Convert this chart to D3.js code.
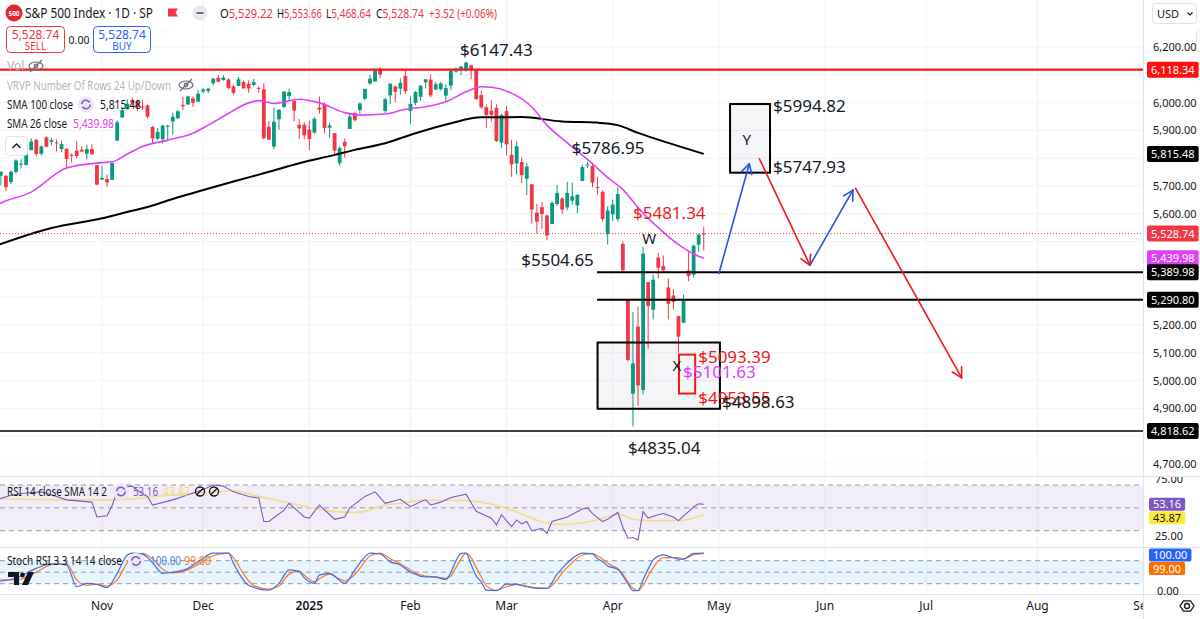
<!DOCTYPE html>
<html>
<head>
<meta charset="utf-8">
<script src="https://cdn.jsdelivr.net/npm/d3@7"></script>
<style>
html, body { margin: 0; padding: 0; background: #fff; }
svg { display: block; font-family: "Noto Sans", Roboto, sans-serif; }
</style>
</head>
<body>
<svg id="chart" width="1200" height="619"></svg>
<script>
// ---------------------------------------------------------------
// data. bar index 0 = 2024-11-01
// ---------------------------------------------------------------
const firstBar = -21; // 2024-10-03

const opens = [
  // Oct
  5698,5737,5737,5714,5751,5778,5775,5829,5866,5816,5875,5859,5857,5833,5834,5812,5827,5830,5816,5833,5775,
  // Nov
  5723,5725,5722,5863,5947,5976,6009,6004,5986,5990,5912,5870,5868,5917,5932,5944,5992,5993,6015,6003,
  // Dec
  6040,6042,6069,6089,6081,6083,6058,6060,6074,6068,6063,6053,6048,5913,5842,5940,5984,6024,6006,5920,5920,
  // Jan
  5903,5892,5982,5993,5910,5890,5782,5859,5905,5963,5973,6014,6069,6076,6121,5970,6026,6058,6050,6096,
  // Feb
  5970,5999,6021,6073,6083,6047,6049,6025,6061,6115,6121,6118,6134,6115,6027,5983,5971,5981,5856,
  // Mar
  5969,5812,5781,5786,5726,5706,5604,5624,5594,5563,5635,5655,5623,5647,5630,5718,5775,5772,5696,5679,5527,
  // Apr
  5598,5581,5492,5292,4953,5194,4966,5354,5255,5442,5412,5335,5306,5232,5208,5396,5381,5489,5529.22
];
const highs = [
  5718,5753,5739,5757,5796,5796,5823,5871,5870,5846,5879,5872,5867,5863,5835,5817,5862,5843,5848,5850,5775,
  5772,5741,5783,5936,5983,6012,6018,6010,6009,5993,5916,5909,5921,5920,5964,5973,6021,6025,6021,6045,
  6053,6053,6089,6099,6099,6088,6065,6092,6080,6079,6085,6058,6070,5935,5982,5978,6041,6050,6007,5941,5929,
  5936,5949,6022,6000,5928,5890,5843,5871,5961,5965,6001,6051,6100,6119,6128,6018,6070,6062,6087,6121,
  6022,6042,6062,6084,6101,6074,6076,6064,6117,6127,6130,6147.43,6134,6119,6044,5993,6009,5994,5960,
  5987,5866,5861,5803,5783,5706,5636,5642,5597,5646,5703,5660,5715,5712,5670,5776,5786.95,5784,5732,5685,5627,
  5651,5695,5500,5292,5246,5267,5481.34,5354,5381,5459,5450,5367,5329,5233,5309,5469,5489,5528,5553.66
];
const lows = [
  5675,5702,5683,5707,5745,5763,5775,5829,5807,5809,5840,5846,5824,5821,5762,5784,5800,5823,5795,5813,5703,
  5723,5696,5722,5863,5945,5976,5986,5969,5974,5942,5854,5865,5853,5861,5884,5941,5973,5992,5985,6003,
  6033,6033,6062,6075,6079,6048,6028,6060,6051,6036,6059,6035,5868,5866,5832,5902,5982,6004,5933,5869,5868,
  5829,5888,5960,5890,5874,5809,5773,5802,5905,5930,5960,6007,6063,6074,6088,5962,5995,6001,6028,6031,
  5923,5990,6007,6051,6019,6045,6043,6003,6045,6107,6099,6111,6084,6009,5977,5908,5932,5858,5837,
  5810,5733,5742,5711,5667,5565,5529,5546,5504.65,5563,5629,5598,5613,5633,5602,5718,5764,5695,5670,5572,5489,
  5574,5572,5390,5069,4835.04,4910,4950,5115,5220,5368,5387,5220,5255,5101.63,5208,5357,5371,5463,5468.64
];
const closes = [
  5700,5751,5696,5751,5792,5780,5815,5860,5815,5842,5841,5865,5854,5851,5797,5810,5808,5824,5833,5814,5705,
  5729,5713,5783,5929,5973,5996,6001,5984,5985,5949,5871,5894,5917,5917,5949,5969,5987,6022,5999,6032,
  6047,6050,6086,6075,6090,6053,6035,6084,6051,6051,6074,6051,5872,5867,5931,5974,6040,6038,5971,5907,5882,
  5869,5942,5975,5909,5918,5827,5836,5843,5950,5937,5997,6049,6086,6119,6101,6012,6068,6039,6071,6041,
  5995,6038,6061,6084,6026,6066,6069,6052,6115,6115,6130,6144,6118,6013,5983,5955,5956,5862,5955,
  5850,5778,5843,5739,5770,5615,5572,5599,5522,5639,5675,5615,5675,5663,5668,5768,5777,5712,5693,5581,5612,
  5633,5671,5397,5074,5062,4983,5457,5268,5363,5406,5397,5276,5283,5158,5288,5376,5485,5525,5528.74
];

// moving averages, read at [bar, value]
const sma26 = [[-21,5630],[-20,5639],[-14,5678],[-7,5765],[0,5784],[2,5787],[5,5815],[8,5842],[13,5865],
  [18,5890],[21,5919],[25,5961],[29,5999],[31,6007],[34,5997],[39,6012],[43,5999],[48,5964],[51,5955],
  [56,5959],[60,5976],[64,5985],[68,6003],[72,6039],[75,6057],[77,6055],[81,6034],[85,5984],[88,5919],
  [92,5855],[97,5780],[100,5730],[103,5688],[106,5622],[110,5550],[114,5489],[118,5447],[119,5439.98]];
const sma100 = [[-21,5485],[-10,5549],[0,5584],[4,5602],[10,5630],[13,5648],[19,5680],[26,5716],[33,5751],
  [39,5782],[46,5812],[50,5830],[56,5854],[62,5890],[69,5926],[75,5947],[83,5948],[91,5932],[98,5928],
  [102,5919],[106,5891],[112,5855],[119,5815.48]];

// RSI 14 and its SMA
const rsi = [[-21,57],[-18,61],[-15,63],[-12,64],[-9,60],[-7,57],[-2,55],[-1,42],[1,43],[2,52],[3,64],
  [5,68.5],[6,69],[8,62],[9,60],[10,52.5],[14,57],[16,60],[18,63],[20,66],[22,70],[24,69],[26,64],[29,60],
  [31,58.6],[32,38],[33,38],[36,48],[37,54],[40,42],[41,41],[43,52.5],[46,40],[47,41],[48,42],[49,50],
  [52,60],[54,64],[56,54],[59,57.5],[61,51],[63,55.4],[64,57],[65,52.5],[67,55],[69,59],[72,62],[74,47],
  [77,41],[78,35],[79,44],[81,33.5],[82,39.4],[83,36],[84,38],[85,30],[86,31],[87,32],[88,27.7],[89,38],
  [92,42],[95,49],[96,50],[97,45],[99,38],[100,40],[102,46],[103,33],[104,23.4],[105,24],[106,22],
  [107,46.7],[108,41],[110,44],[111,45],[113,42],[114,38.8],[115,43],[116,46.7],[117,51],[118,53.5],[119,53.16]];
const rsiSma = [[-21,58],[-7,57],[2,57],[13,61],[22,64],[26,65],[30,61],[36,55.4],[42,49.6],[46,46.7],
  [50,46],[53,48],[56,52.5],[59,54],[64,56.9],[72,56.3],[76,54],[81,48.1],[87,37.9],[91,35.6],[95,37],
  [98,39.4],[102,44.4],[105,40],[108,38.8],[114,38.8],[116,40],[119,43.87]];

// Stoch RSI %K and %D
const stochK = [[-21,25],[-17,35],[-13,60],[-10,72],[-7,69],[-5,12],[-3,21],[-1,18],[1,10],[3,47],[5,95],
  [6,100],[8,97],[10,75],[12,47],[14,50],[17,60],[19,77],[22,100],[25,100],[26,73],[29,16],[33,3],[35,21],
  [37,56],[39,52],[40,35],[41,25],[42,21],[43,43],[45,47],[48,21],[50,56],[52,90],[53,100],[55,98],[57,77],
  [59,69],[61,50],[62,45],[63,39],[64,38],[66,37],[68,31],[69,50],[70,80],[71,99],[72,100],[73,70],[74,40],
  [75,25],[76,3],[78,2],[80,19],[82,18],[84,12],[86,8],[88,8],[90,45],[91,60],[93,86],[95,100],[97,98],
  [98,85],[99,78],[100,66],[101,62],[102,57],[104,20],[105,2],[106,2],[107,30],[108,58],[109,82],[111,95],
  [114,84],[115,84],[117,99],[119,100]];
const stochD = [[-21,30],[-17,30],[-13,50],[-10,70],[-7,72],[-5,30],[-3,16],[-1,19],[1,14],[3,30],[5,75],
  [6,90],[8,99],[10,85],[12,58],[14,48],[17,56],[19,70],[22,93],[25,100],[26,88],[28,45],[30,15],[33,6],
  [35,14],[37,45],[39,53],[40,42],[41,31],[42,25],[43,33],[45,45],[47,32],[48,27],[50,44],[52,78],[53,93],
  [55,100],[57,85],[59,72],[61,56],[62,48],[64,40],[66,38],[68,34],[69,40],[70,62],[71,85],[72,99],[73,88],
  [74,62],[75,38],[76,15],[78,3],[80,12],[82,18],[84,14],[86,9],[88,8],[89,15],[90,30],[91,48],[93,75],
  [95,95],[97,99],[98,92],[99,84],[100,74],[101,66],[102,60],[103,45],[104,25],[105,8],[106,2],[107,15],
  [108,40],[109,62],[111,88],[114,88],[115,85],[117,95],[119,99]];

// axes
const monthLabels = ["Nov","Dec","2025","Feb","Mar","Apr","May","Jun","Jul","Aug","Sep"];
const monthBars   = [0, 20, 41, 61, 80, 101, 122, 143, 163, 185, 206];
const priceTicks  = [4700,4800,4900,5000,5100,5200,5300,5400,5500,5600,5700,5800,5900,6000,6100,6200];

// drawn levels and notes
const redLevel = 6118.34;
const lastPrice = 5528.74;
const supportLevels = [5389.98, 5290.80];
const floorLevel = 4818.62;
const boxY = {bars: [124.2, 132.1], prices: [5747.93, 5994.82]};
const boxX = {bars: [98, 122.2], prices: [4898.63, 5137]};
const boxRed = {bars: [114.1, 117.3], prices: [4953.55, 5093.39]};
const arrows = [
  {from: [122, 5385], to: [128, 5780], color: "#2952e3"},
  {from: [130, 5798], to: [140, 5415], color: "#f21818"},
  {from: [140, 5415], to: [148.5, 5685], color: "#2952e3"},
  {from: [149, 5692], to: [170, 5010], color: "#f21818"}
];
const notes = [
  {bar: 70.8, price: 6167.6, text: "$6147.43", color: "#131722"},
  {bar: 92.9, price: 5815.1, text: "$5786.95", color: "#131722"},
  {bar: 105,  price: 5581.3, text: "$5481.34", color: "#f21818"},
  {bar: 82.9, price: 5412.2, text: "$5504.65", color: "#131722"},
  {bar: 117.9, price: 5064.4, text: "$5093.39", color: "#f21818"},
  {bar: 114.9, price: 5010.4, text: "$5101.63", color: "#e040fb"},
  {bar: 117.9, price: 4915.8, text: "$4953.55", color: "#f21818"},
  {bar: 122.6, price: 4902.5, text: "$4898.63", color: "#131722"},
  {bar: 104,  price: 4737.1, text: "$4835.04", color: "#131722"},
  {bar: 132.7, price: 5966.2, text: "$5994.82", color: "#131722"},
  {bar: 132.7, price: 5747.8, text: "$5747.93", color: "#131722"}
];
const letters = [
  {bar: 108.2, price: 5491.4, text: "W"},
  {bar: 113.7, price: 5034.5, text: "X"},
  {bar: 127.5, price: 5847.5, text: "Y"}
];

// ---------------------------------------------------------------
const svg = d3.select("#chart");
const plotRight = 1143;
const up = "#089981", down = "#f23645";
const fmt = d3.format(",.2f");

const x = d3.scaleLinear().domain([0, 185]).range([102, 1037.5]);
const y = d3.scaleLinear().domain([4700, 6200]).range([464, 47]);
const yRsi = d3.scaleLinear().domain([30, 70]).range([530.7, 485]);
const ySto = d3.scaleLinear().domain([20, 80]).range([583.7, 560.7]);

const defs = svg.append("defs");
function clip(id, x0, y0, w, h) {
  defs.append("clipPath").attr("id", id)
    .append("rect").attr("x", x0).attr("y", y0).attr("width", w).attr("height", h);
}
clip("pricePane", 0, 0, plotRight, 476);
clip("rsiPane", 0, 477, plotRight, 70);
clip("stochPane", 0, 548, plotRight, 46);
clip("timeAxis", 0, 594, plotRight, 25);
clip("rsiAxis", plotRight, 477, 57, 70);

// grid
const grid = svg.append("g");
grid.selectAll("line.v").data(monthBars).join("line")
  .attr("x1", d => x(d)).attr("x2", d => x(d))
  .attr("y1", 0).attr("y2", 594)
  .attr("stroke", "#f0f3fa");
grid.selectAll("line.h").data(priceTicks).join("line")
  .attr("x1", 0).attr("x2", plotRight)
  .attr("y1", d => y(d)).attr("y2", d => y(d))
  .attr("stroke", "#f0f3fa");

// panes frame
const frame = svg.append("g").attr("stroke", "#e0e3eb");
frame.append("line").attr("x1", 0).attr("x2", 1200).attr("y1", 476.5).attr("y2", 476.5);
frame.append("line").attr("x1", 0).attr("x2", 1200).attr("y1", 547.5).attr("y2", 547.5);
frame.append("line").attr("x1", 0).attr("x2", 1200).attr("y1", 594.5).attr("y2", 594.5);
frame.append("line").attr("x1", plotRight + 0.5).attr("x2", plotRight + 0.5).attr("y1", 0).attr("y2", 619);

// ---------------- price pane
const price = svg.append("g").attr("clip-path", "url(#pricePane)");

const bars = closes.map((c, k) => ({i: k + firstBar, o: opens[k], h: highs[k], l: lows[k], c: c}));
const candles = price.append("g");
candles.selectAll("line").data(bars).join("line")
  .attr("x1", d => x(d.i)).attr("x2", d => x(d.i))
  .attr("y1", d => y(d.h)).attr("y2", d => y(d.l))
  .attr("stroke", d => d.c >= d.o ? up : down)
  .attr("stroke-width", 1);
candles.selectAll("rect").data(bars).join("rect")
  .attr("x", d => x(d.i) - 1.9).attr("width", 3.8)
  .attr("y", d => y(Math.max(d.o, d.c)))
  .attr("height", d => Math.max(1, Math.abs(y(d.o) - y(d.c))))
  .attr("fill", d => d.c >= d.o ? up : down);

const maLine = d3.line().curve(d3.curveMonotoneX).x(d => x(d[0])).y(d => y(d[1]));
price.append("path").datum(sma100).attr("d", maLine)
  .attr("fill", "none").attr("stroke", "#000").attr("stroke-width", 2);
price.append("path").datum(sma26).attr("d", maLine)
  .attr("fill", "none").attr("stroke", "#e040fb").attr("stroke-width", 1.6);

// last price dotted line
price.append("line")
  .attr("x1", 0).attr("x2", plotRight)
  .attr("y1", y(lastPrice)).attr("y2", y(lastPrice))
  .attr("stroke", "#f23645").attr("stroke-dasharray", "1,2");

// levels
price.append("line")
  .attr("x1", 0).attr("x2", plotRight)
  .attr("y1", y(redLevel)).attr("y2", y(redLevel))
  .attr("stroke", "#f5141e").attr("stroke-width", 2.2);
price.selectAll("line.sup").data(supportLevels).join("line")
  .attr("x1", x(97.9)).attr("x2", plotRight)
  .attr("y1", d => y(d)).attr("y2", d => y(d))
  .attr("stroke", "#000").attr("stroke-width", 2);
price.append("line")
  .attr("x1", 0).attr("x2", plotRight)
  .attr("y1", y(floorLevel)).attr("y2", y(floorLevel))
  .attr("stroke", "#000").attr("stroke-width", 1.6);

// boxes
function box(b, stroke, fill, w) {
  price.append("rect")
    .attr("x", x(b.bars[0])).attr("width", x(b.bars[1]) - x(b.bars[0]))
    .attr("y", y(b.prices[1])).attr("height", y(b.prices[0]) - y(b.prices[1]))
    .attr("fill", fill).attr("stroke", stroke).attr("stroke-width", w);
}
box(boxX, "#000", "rgba(120,123,150,0.08)", 2);
box(boxY, "#000", "rgba(120,123,150,0.08)", 2);
box(boxRed, "#f21818", "none", 2);

// arrows
arrows.forEach(a => {
  const x1 = x(a.from[0]), y1 = y(a.from[1]), x2 = x(a.to[0]), y2 = y(a.to[1]);
  const ang = Math.atan2(y2 - y1, x2 - x1);
  const g = price.append("g").attr("stroke", a.color).attr("stroke-width", 1.6)
    .attr("fill", "none").attr("stroke-linecap", "round");
  g.append("line").attr("x1", x1).attr("y1", y1).attr("x2", x2).attr("y2", y2);
  [ang + Math.PI * 0.84, ang - Math.PI * 0.84].forEach(t => {
    g.append("line").attr("x1", x2).attr("y1", y2)
      .attr("x2", x2 + 11 * Math.cos(t)).attr("y2", y2 + 11 * Math.sin(t));
  });
});

// notes
price.selectAll("text.note").data(notes).join("text")
  .attr("x", d => x(d.bar)).attr("y", d => y(d.price))
  .attr("font-size", 17).attr("fill", d => d.color)
  .text(d => d.text);
price.selectAll("text.letter").data(letters).join("text")
  .attr("x", d => x(d.bar)).attr("y", d => y(d.price))
  .attr("text-anchor", "middle")
  .attr("font-size", 15).attr("fill", "#131722")
  .text(d => d.text);

// ---------------- RSI pane
const rsiG = svg.append("g").attr("clip-path", "url(#rsiPane)");
rsiG.append("rect").attr("x", 0).attr("width", plotRight)
  .attr("y", yRsi(70)).attr("height", yRsi(30) - yRsi(70))
  .attr("fill", "rgba(126,87,194,0.1)");
rsiG.selectAll("line").data([70, 50, 30]).join("line")
  .attr("x1", 0).attr("x2", plotRight)
  .attr("y1", d => yRsi(d)).attr("y2", d => yRsi(d))
  .attr("stroke", "#9598a1").attr("stroke-dasharray", "5,4");
rsiG.append("path").datum(rsiSma)
  .attr("d", d3.line().curve(d3.curveMonotoneX).x(d => x(d[0])).y(d => yRsi(d[1])))
  .attr("fill", "none").attr("stroke", "#f3dd8a").attr("stroke-width", 1.6);
rsiG.append("path").datum(rsi)
  .attr("d", d3.line().x(d => x(d[0])).y(d => yRsi(d[1])))
  .attr("fill", "none").attr("stroke", "#7e57c2").attr("stroke-width", 1.1);

// ---------------- Stoch RSI pane
const stoG = svg.append("g").attr("clip-path", "url(#stochPane)");
stoG.append("rect").attr("x", 0).attr("width", plotRight)
  .attr("y", ySto(80)).attr("height", ySto(20) - ySto(80))
  .attr("fill", "rgba(33,150,243,0.1)");
stoG.selectAll("line").data([80, 50, 20]).join("line")
  .attr("x1", 0).attr("x2", plotRight)
  .attr("y1", d => ySto(d)).attr("y2", d => ySto(d))
  .attr("stroke", "#9598a1").attr("stroke-dasharray", "5,4");
const stoLine = d3.line().curve(d3.curveMonotoneX).x(d => x(d[0])).y(d => ySto(d[1]));
stoG.append("path").datum(stochD).attr("d", stoLine)
  .attr("fill", "none").attr("stroke", "#ff7a1a").attr("stroke-width", 1.2);
stoG.append("path").datum(stochK).attr("d", stoLine)
  .attr("fill", "none").attr("stroke", "#3d6ef2").attr("stroke-width", 1.2);

// ---------------- time axis
svg.append("g").attr("clip-path", "url(#timeAxis)")
  .selectAll("text").data(monthLabels).join("text")
  .attr("x", (d, k) => x(monthBars[k])).attr("y", 610)
  .attr("text-anchor", "middle").attr("font-size", 12)
  .attr("font-weight", d => d === "2025" ? 600 : 400)
  .attr("fill", "#131722").text(d => d);

// ---------------- price axis
const tagLevels = [
  [redLevel, "#ff1010"], [sma100[sma100.length - 1][1], "#000"], [lastPrice, "#f23645"],
  [sma26[sma26.length - 1][1], "#e040fb"], [supportLevels[0], "#000"], [supportLevels[1], "#000"],
  [floorLevel, "#000"]
];
// tick labels that would sit under a value tag are left out, like the platform does
const freeTicks = priceTicks.filter(t => tagLevels.every(p => Math.abs(y(t) - y(p[0])) > 12));
const axis = svg.append("g").attr("font-size", 11);
axis.selectAll("text").data(freeTicks).join("text")
  .attr("x", 1153).attr("y", d => y(d) + 4)
  .attr("fill", "#131722").text(d => fmt(d));

function tag(g, xl, yc, str, bg, fg, h) {
  const t = g.append("text").attr("x", xl + 4).attr("y", yc + 4)
    .attr("font-size", 11).attr("fill", fg).text(str);
  const w = t.node().getComputedTextLength();
  g.insert("rect", () => t.node())
    .attr("x", xl).attr("y", yc - h / 2).attr("width", w + 8).attr("height", h)
    .attr("rx", 2).attr("fill", bg);
}
const tags = svg.append("g");
tagLevels.forEach(p => tag(tags, 1147, y(p[0]), fmt(p[0]), p[1], "#fff", 16));

// indicator axes
const rsiAxis = svg.append("g").attr("clip-path", "url(#rsiAxis)").attr("font-size", 11).attr("fill", "#131722");
rsiAxis.append("text").attr("x", 1155).attr("y", yRsi(75) + 4).text("75.00");
rsiAxis.append("text").attr("x", 1155).attr("y", yRsi(25) + 4).text("25.00");
svg.append("text").attr("x", 1157).attr("y", ySto(0) + 4).attr("font-size", 11)
  .attr("fill", "#131722").text("0.00");

const rsiLast = rsi[rsi.length - 1][1], rsiSmaLast = rsiSma[rsiSma.length - 1][1];
const kLast = stochK[stochK.length - 1][1], dLast = stochD[stochD.length - 1][1];
const c1 = yRsi(rsiLast), c2 = Math.max(yRsi(rsiSmaLast), c1 + 13.5);
tag(tags, 1149, c1, rsiLast.toFixed(2), "#7e57c2", "#fff", 13);
tag(tags, 1149, c2, rsiSmaLast.toFixed(2), "#ffeb3b", "#131722", 13);
const c3 = Math.max(ySto(kLast), 555), c4 = Math.max(ySto(dLast), c3 + 13.5);
tag(tags, 1149, c3, kLast.toFixed(2), "#2962ff", "#fff", 13);
tag(tags, 1149, c4, dLast.toFixed(2), "#ff6d00", "#fff", 13);

// ---------------- header and legends
const ui = svg.append("g");
function txt(xp, yp, str, size, color, w, anchor) {
  const t = ui.append("text").attr("x", xp).attr("y", yp).attr("font-size", size)
    .attr("fill", color).text(str);
  if (w) t.attr("textLength", w).attr("lengthAdjust", "spacingAndGlyphs");
  if (anchor) t.attr("text-anchor", anchor);
  return t;
}
function eyeOff(cx, cy) {
  const g = ui.append("g").attr("stroke", "#6a6d78").attr("fill", "none").attr("stroke-width", 1.2);
  g.append("ellipse").attr("cx", cx).attr("cy", cy).attr("rx", 7).attr("ry", 4);
  g.append("circle").attr("cx", cx).attr("cy", cy).attr("r", 1.8);
  g.append("line").attr("x1", cx - 6).attr("y1", cy + 6).attr("x2", cx + 6).attr("y2", cy - 6);
}
function spin(cx, cy) {
  ui.append("circle").attr("cx", cx).attr("cy", cy).attr("r", 8).attr("fill", "#ede7f6");
  ui.append("circle").attr("cx", cx).attr("cy", cy).attr("r", 4.2).attr("fill", "none")
    .attr("stroke", "#7e57c2").attr("stroke-width", 1.6).attr("stroke-dasharray", "10.5,2.7");
}
function noSign(cx, cy) {
  const g = ui.append("g").attr("stroke", "#131722").attr("fill", "none").attr("stroke-width", 1.3);
  g.append("circle").attr("cx", cx).attr("cy", cy).attr("r", 4.5);
  g.append("line").attr("x1", cx - 3.2).attr("y1", cy + 3.2).attr("x2", cx + 3.2).attr("y2", cy - 3.2);
}

// symbol line
ui.append("circle").attr("cx", 14).attr("cy", 13).attr("r", 8.5).attr("fill", "#e3262f");
txt(14, 15.5, "500", 6.5, "#fff", null, "middle").attr("font-weight", 700);
txt(25, 18, "S&P 500 Index · 1D · SP", 14, "#131722", 128);
ui.append("path").attr("d", "M168,8.5 H178 L175.5,12.5 L178,16.5 H168 Z").attr("fill", "#f23645");
ui.append("circle").attr("cx", 200).attr("cy", 13).attr("r", 7.5).attr("fill", "#e8e9ed");
ui.append("line").attr("x1", 196.5).attr("x2", 203.5).attr("y1", 13).attr("y2", 13)
  .attr("stroke", "#6a6d78").attr("stroke-width", 2);
// O H L C: one text per field, letter dark and value red
[["O", "5,529.22", 220, 53], ["H", "5,553.66", 277, 45], ["L", "5,468.64", 326, 45],
 ["C", "5,528.74", 376, 48], ["", "+3.52 (+0.06%)", 429, 68]]
  .forEach(p => {
    const t = ui.append("text").attr("x", p[2]).attr("y", 17.5).attr("font-size", 12.5)
      .attr("textLength", p[3]).attr("lengthAdjust", "spacingAndGlyphs");
    if (p[0]) t.append("tspan").attr("fill", "#131722").text(p[0]);
    t.append("tspan").attr("fill", down).text(p[1]);
  });

// sell / buy
ui.append("rect").attr("x", 6.5).attr("y", 26.5).attr("width", 58).attr("height", 26).attr("rx", 4)
  .attr("fill", "#fff").attr("stroke", "#f23645");
txt(35.5, 38.5, "5,528.74", 12, "#f23645", null, "middle");
txt(35.5, 50, "SELL", 10, "#f23645", null, "middle");
txt(79, 44, "0.00", 10.5, "#131722", null, "middle");
ui.append("rect").attr("x", 93.5).attr("y", 26.5).attr("width", 57).attr("height", 26).attr("rx", 4)
  .attr("fill", "#fff").attr("stroke", "#2962ff");
txt(122, 38.5, "5,528.74", 12, "#2962ff", null, "middle");
txt(122, 50, "BUY", 10, "#2962ff", null, "middle");

// legends
txt(7, 70, "Vol", 12, "#b2b5be");
eyeOff(36, 66);
txt(7, 89.5, "VRVP Number Of Rows 24 Up/Down", 12.5, "#b2b5be", 164);
eyeOff(186, 85);
txt(7, 108.5, "SMA 100 close", 13, "#131722", 66);
spin(86, 104.5);
txt(100, 108.5, "5,815.48", 13, "#131722", 41);
txt(7, 127.5, "SMA 26 close", 13, "#131722", 60);
txt(73, 127.5, "5,439.98", 13, "#e040fb", 41);
ui.append("rect").attr("x", 5.5).attr("y", 136.5).attr("width", 22).attr("height", 19).attr("rx", 3)
  .attr("fill", "#fff").attr("stroke", "#e0e3eb");
ui.append("path").attr("d", "M12.5,148 L16.5,144 L20.5,148").attr("fill", "none")
  .attr("stroke", "#131722").attr("stroke-width", 1.3);

txt(7, 495.5, "RSI 14 close SMA 14 2", 13, "#131722", 100);
spin(121, 491.5);
txt(133, 495.5, "53.16", 13, "#7e57c2", 25);
txt(163, 495.5, "43.87", 13, "#f0dc7c", 27);
noSign(200, 491.5);
noSign(214, 491.5);

txt(7, 565, "Stoch RSI 3 3 14 14 close", 13, "#131722", 115);
spin(136, 561);
txt(150, 565, "100.00", 13, "#4d7cf0", 31);
txt(184, 565, "99.00", 13, "#f47a20", 27);

// logo
ui.append("path").attr("d", "M8,572 H19 V585 H14 V577 H8 Z").attr("fill", "#131722");
ui.append("circle").attr("cx", 22.5).attr("cy", 575).attr("r", 2.4).attr("fill", "#131722");
ui.append("path").attr("d", "M22,585 L28,572 H34 L28,585 Z").attr("fill", "#131722");

// currency button, side tab, settings
ui.append("rect").attr("x", 1152.5).attr("y", 3.5).attr("width", 44).attr("height", 20).attr("rx", 3)
  .attr("fill", "#fff").attr("stroke", "#e0e3eb");
txt(1157, 17.5, "USD", 11, "#131722");
ui.append("path").attr("d", "M1187.5,12.5 L1190,15 L1192.5,12.5").attr("fill", "none")
  .attr("stroke", "#131722").attr("stroke-width", 1.1);
ui.append("rect").attr("x", 1196.5).attr("y", 29.5).attr("width", 8).attr("height", 22).attr("rx", 3)
  .attr("fill", "#fff").attr("stroke", "#e0e3eb");
const gear = ui.append("g").attr("fill", "none").attr("stroke", "#131722").attr("stroke-width", 1.3);
gear.append("path").attr("d", d3.line()(d3.range(6).map(k => {
  const a = Math.PI / 3 * k;
  return [1187 + 7 * Math.cos(a), 606 + 6 * Math.sin(a)];
})) + "Z");
gear.append("circle").attr("cx", 1187).attr("cy", 606).attr("r", 2.5);
</script>
</body>
</html>
